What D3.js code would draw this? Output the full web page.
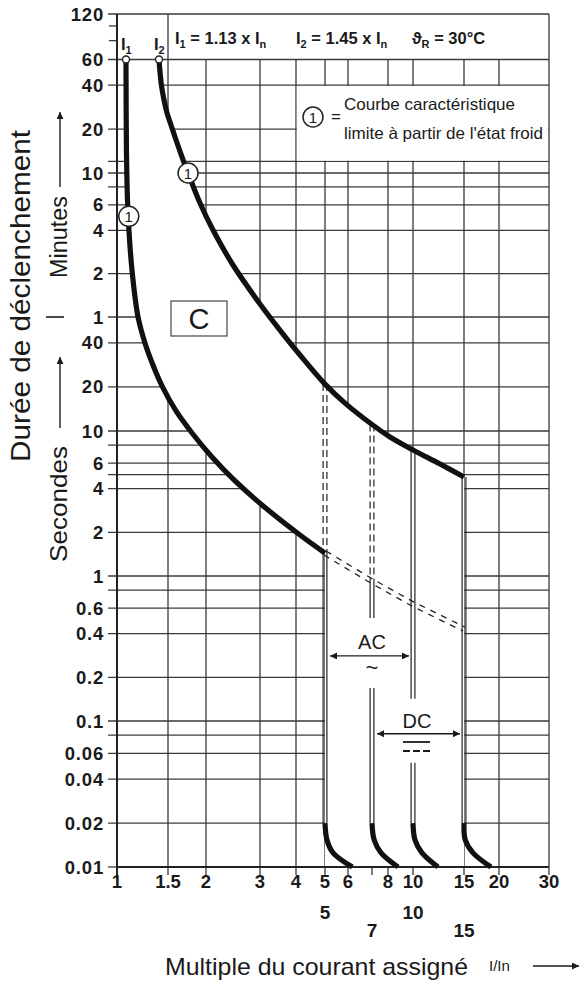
<!DOCTYPE html>
<html><head><meta charset="utf-8">
<script src="https://cdn.jsdelivr.net/npm/d3@7"></script>
<style>
body{margin:0;background:#fff}
svg text{font-family:"Liberation Sans",Arial,Helvetica,sans-serif;fill:#1a1a1a}
</style></head>
<body><svg id="c" width="588" height="1000"></svg>
<script>
// ---------------- data ----------------
const xTickValues = [1,1.5,2,3,4,5,6,7,8,10,15,20,30];
const xTickLabels = ["1","1.5","2","3","4","5","6","","8","10","15","20","30"];
const xGridValues = [1.5,2,3,4,5,6,8,10,15,20];
const xBoldValues = [5,7,10,15];
const xBoldLabels = ["5","7","10","15"];

// time values in seconds
const yLabelValues = [7200,3600,2400,1200,600,360,240,120,60,40,20,10,6,4,2,1,0.6,0.4,0.2,0.1,0.06,0.04,0.02,0.01];
const yLabelTexts  = ["120","60","40","20","10","6","4","2","1","40","20","10","6","4","2","1","0.6","0.4","0.2","0.1","0.06","0.04","0.02","0.01"];
const yMinorTicks  = [6000,4800];
const yGridValues  = [2400,1200,720,600,480,360,240,120,60,40,20,10,8,6,5,4,2,1,0.8,0.6,0.4,0.2,0.1,0.08,0.06,0.04,0.02];

// tripping curves (multiple of In, seconds)
const lowerX = [1.074,1.078,1.087,1.105,1.131,1.182,1.249,1.331,1.430,1.594,1.799,2.092,2.449,3.048,4.125,5];
const lowerT = [3600,863,390,205.5,117.4,60,39.9,28.2,20.3,13.7,9.69,6.62,4.67,3.09,1.917,1.44];
const upperX = [1.3965,1.4077,1.4246,1.4533,1.4883,1.5345,1.594,1.6684,1.7458,1.911,2.1081,2.449,3,3.606,4.125,5,5.859,6.912,8.144,10,12.396,15];
const upperT = [3600,2955,2370,1900,1547,1280,1010,772,600,371.5,241,137.8,73.9,45.9,33.0,20.9,15.5,11.34,9.09,7.40,5.92,4.82];
const extX = [5,7,10,15];
const extT = [1.44,0.92,0.64,0.43];

// instantaneous tails
const tail5X  = [5,5.08,5.33,6.17];
const tail7X  = [7,7.13,7.55,8.75];
const tail10X = [10,10.16,10.74,12.2];
const tail15X = [15,15.16,16.15,18.72];
const tailT   = [0.02,0.0153,0.0125,0.01];

// vertical magnetic-trip lines: [x, tTop, tBottom]
const solidSegs  = [[5,1.44,0.02],[7,0.92,0.513],[7,0.169,0.02],[10,7.4,0.1426],[10,0.0518,0.02],[15,4.82,0.02]];
const dashedSegs = [[5,20.9,1.44],[7,11.07,0.92]];

const i1 = [1.074,3600], i2 = [1.3965,3600];
const mark1Lower = [1.098,300], mark1Upper = [1.7458,600];
const acArrow = [5,10,0.281];
const dcArrow = [7,15,0.0818];
const gridTop = 3600, tMax = 7200, tMin = 0.01, xMin = 1, xMax = 30;

// ---------------- scales ----------------
const svg = d3.select("#c");
const W = 588, H = 1000;
const x = d3.scaleLog()
  .domain([1,1.5,2,3,4,5,6,7,8,10,15,20,30])
  .range([117,168,206,260,296,325,348,372,388,413,464,499,549]);
const y = d3.scaleLog()
  .domain([0.01,0.1,1,10,60,600,3600,7200])
  .range([867,721,576,431,317,173,59.5,14]);

const zip = (a,b)=>a.map((v,i)=>[v,b[i]]);
const line = d3.line().x(d=>x(d[0])).y(d=>y(d[1])).curve(d3.curveCatmullRom.alpha(0.5));
const lowerPts = zip(lowerX,lowerT), upperPts = zip(upperX,upperT);

// band mask (region without grid)
const bandD = line(lowerPts)
  + "L" + x(5) + "," + y(tMin) + "L" + x(15) + "," + y(tMin)
  + "L" + line(upperPts.slice().reverse()).slice(1) + "Z";
const defs = svg.append("defs");
const mask = defs.append("mask").attr("id","band").attr("maskUnits","userSpaceOnUse")
  .attr("x",0).attr("y",0).attr("width",W).attr("height",H);
mask.append("rect").attr("width",W).attr("height",H).attr("fill","white");
mask.append("path").attr("d",bandD).attr("fill","black");

defs.append("marker").attr("id","ah").attr("viewBox","0 0 10 10").attr("refX",10).attr("refY",5)
  .attr("markerWidth",10).attr("markerHeight",7).attr("markerUnits","userSpaceOnUse").attr("orient","auto-start-reverse")
  .append("path").attr("d","M0,0L10,5L0,10Z").attr("fill","#1a1a1a");

const gridC = "#3a3a3a";
// ---------------- grid ----------------
const g = svg.append("g").attr("mask","url(#band)");
g.selectAll("line.h").data(yGridValues).join("line")
  .attr("x1",108).attr("x2",x(xMax)).attr("y1",d=>y(d)).attr("y2",d=>y(d))
  .attr("stroke",gridC).attr("stroke-width",1.3);
g.selectAll("line.v").data(xGridValues).join("line")
  .attr("x1",d=>x(d)).attr("x2",d=>x(d)).attr("y1",d=>d===1.5?y(tMax):y(gridTop)).attr("y2",y(tMin))
  .attr("stroke",gridC).attr("stroke-width",1.3);
// legend area cleared
svg.append("rect").attr("x",x(4)+0.8).attr("y",y(2400)+0.8)
  .attr("width",x(xMax)-x(4)-1.6).attr("height",y(720)-y(2400)-1.6).attr("fill","#fff");

// frame
const frame = svg.append("g").attr("stroke",gridC).attr("stroke-width",1.3);
frame.append("line").attr("x1",108).attr("x2",x(xMax)).attr("y1",y(tMax)).attr("y2",y(tMax));
frame.append("line").attr("x1",108).attr("x2",x(xMax)).attr("y1",y(gridTop)).attr("y2",y(gridTop));
frame.append("line").attr("x1",x(xMax)).attr("x2",x(xMax)).attr("y1",y(tMax)).attr("y2",y(tMin));
frame.selectAll("line.mt").data(yMinorTicks).join("line")
  .attr("x1",109).attr("x2",x(xMin)).attr("y1",d=>y(d)).attr("y2",d=>y(d));
frame.append("line").attr("x1",108).attr("x2",x(xMin)).attr("y1",y(tMin)).attr("y2",y(tMin));
frame.selectAll("line.xt").data(xTickValues).join("line")
  .attr("x1",d=>x(d)).attr("x2",d=>x(d)).attr("y1",y(tMin)).attr("y2",y(tMin)+8);
svg.append("line").attr("x1",x(xMin)).attr("x2",x(xMin)).attr("y1",y(tMax)).attr("y2",y(tMin)+8)
  .attr("stroke","#222").attr("stroke-width",2);
svg.append("line").attr("x1",x(xMin)).attr("x2",x(xMax)).attr("y1",y(tMin)).attr("y2",y(tMin))
  .attr("stroke","#222").attr("stroke-width",2);

// ---------------- vertical trip lines ----------------
const vl = svg.append("g").attr("stroke","#222").attr("stroke-width",1.2);
[-1.9,1.9].forEach(off=>{
  vl.selectAll(null).data(solidSegs).join("line")
    .attr("x1",d=>x(d[0])+off).attr("x2",d=>x(d[0])+off).attr("y1",d=>y(d[1])).attr("y2",d=>y(d[2]));
  vl.selectAll(null).data(dashedSegs).join("line")
    .attr("x1",d=>x(d[0])+off).attr("x2",d=>x(d[0])+off).attr("y1",d=>y(d[1])).attr("y2",d=>y(d[2]))
    .attr("stroke-dasharray","7,4");
});
// dashed extension of lower curve
const extLine = d3.line().x(d=>x(d[0])).y(d=>y(d[1]));
[-2.2,2.2].forEach(off=>{
  svg.append("path").attr("d",extLine(zip(extX,extT))).attr("transform",`translate(${off*0.45},${-off*0.9})`)
    .attr("fill","none").attr("stroke","#222").attr("stroke-width",1.3).attr("stroke-dasharray","6,6");
});

// ---------------- thick curves ----------------
const thick = svg.append("g").attr("fill","none").attr("stroke","#111").attr("stroke-width",5.2).attr("stroke-linecap","butt");
thick.append("path").attr("d",line(lowerPts));
thick.append("path").attr("d",line(upperPts));
[tail5X,tail7X,tail10X,tail15X].forEach(tx=>thick.append("path").attr("d",line(zip(tx,tailT))));

// I1 / I2 dots
svg.selectAll("circle.i").data([i1,i2]).join("circle")
  .attr("cx",d=>x(d[0])).attr("cy",d=>y(d[1])).attr("r",3.5)
  .attr("fill","#fff").attr("stroke","#222").attr("stroke-width",1.4);

// circled-1 markers
function circ1(cx,cy){
  svg.append("circle").attr("cx",cx).attr("cy",cy).attr("r",10).attr("fill","#fff").attr("stroke","#222").attr("stroke-width",1.5);
  svg.append("text").attr("x",cx).attr("y",cy+5.5).attr("text-anchor","middle").attr("font-size",15).text("1");
}
circ1(x(mark1Lower[0]),y(mark1Lower[1]));
circ1(x(mark1Upper[0]),y(mark1Upper[1]));

// "C" box
svg.append("rect").attr("x",171).attr("y",301).attr("width",56).attr("height",35).attr("fill","#fff").attr("stroke","#444").attr("stroke-width",1.2);
svg.append("text").attr("x",199).attr("y",329).attr("text-anchor","middle").attr("font-size",29).text("C");

// ---------------- arrows AC / DC ----------------
const arrows = svg.append("g").attr("stroke","#1a1a1a").attr("stroke-width",1.3);
arrows.append("line").attr("x1",x(acArrow[0])+5).attr("x2",x(acArrow[1])-4).attr("y1",y(acArrow[2])).attr("y2",y(acArrow[2]))
  .attr("marker-start","url(#ah)").attr("marker-end","url(#ah)");
arrows.append("line").attr("x1",x(dcArrow[0])+5).attr("x2",x(dcArrow[1])-4).attr("y1",y(dcArrow[2])).attr("y2",y(dcArrow[2]))
  .attr("marker-start","url(#ah)").attr("marker-end","url(#ah)");
svg.append("text").attr("x",372).attr("y",649).attr("text-anchor","middle").attr("font-size",20).text("AC");
svg.append("text").attr("x",372).attr("y",675).attr("text-anchor","middle").attr("font-size",22).text("~");
svg.append("text").attr("x",417).attr("y",728).attr("text-anchor","middle").attr("font-size",20).text("DC");
svg.append("line").attr("x1",403).attr("x2",430).attr("y1",742).attr("y2",742).attr("stroke","#1a1a1a").attr("stroke-width",1.8);
svg.append("line").attr("x1",403).attr("x2",430).attr("y1",751).attr("y2",751).attr("stroke","#1a1a1a").attr("stroke-width",1.8).attr("stroke-dasharray","7,3");

// ---------------- axis labels ----------------
svg.selectAll("text.yl").data(yLabelValues).join("text")
  .attr("x",104).attr("y",d=>y(d)+6.5).attr("text-anchor","end")
  .attr("font-size",18.5).attr("letter-spacing",0.8).attr("font-weight","bold").text((d,i)=>yLabelTexts[i]);
svg.selectAll("text.xl").data(xTickValues).join("text")
  .attr("x",d=>x(d)).attr("y",888).attr("text-anchor","middle")
  .attr("font-size",18.5).attr("font-weight","bold").text((d,i)=>xTickLabels[i]);
svg.selectAll("text.xb").data(xBoldValues).join("text")
  .attr("x",d=>x(d)).attr("y",(d,i)=>i%2===0?919:937).attr("text-anchor","middle")
  .attr("font-size",19).attr("font-weight","bold").attr("fill","#000").text((d,i)=>xBoldLabels[i]);

// header
function subText(xp,yp,parts){
  const t = svg.append("text").attr("x",xp).attr("y",yp).attr("font-size",16.5).attr("font-weight","bold");
  parts.forEach(p=>{
    const s = t.append("tspan").text(p[0]);
    if(p[1]) s.attr("font-size",11).attr("dy",4); else s.attr("dy",p[2]||0);
  });
  return t;
}
subText(175,44,[["I"],["1",true],[" = 1.13 x I",false,-4],["n",true]]);
subText(296,44,[["I"],["2",true],[" = 1.45 x I",false,-4],["n",true]]);
subText(412,44,[["ϑ"],["R",true],[" = 30°C",false,-4]]);
subText(121,50,[["I"],["1",true]]);
subText(154,50,[["I"],["2",true]]);

// legend
circ1(313,117);
svg.append("text").attr("x",331).attr("y",122).attr("font-size",17).text("=");
svg.append("text").attr("x",344).attr("y",110).attr("font-size",16.5).attr("textLength",171).attr("lengthAdjust","spacingAndGlyphs").text("Courbe caractéristique");
svg.append("text").attr("x",344).attr("y",139).attr("font-size",16.5).attr("textLength",199).attr("lengthAdjust","spacingAndGlyphs").text("limite à partir de l'état froid");

// y title
svg.append("text").attr("transform","translate(30,296) rotate(-90)").attr("text-anchor","middle")
  .attr("font-size",28).attr("textLength",332).attr("lengthAdjust","spacingAndGlyphs").text("Durée de déclenchement");
svg.append("text").attr("transform","translate(67,237) rotate(-90)").attr("text-anchor","middle")
  .attr("font-size",23).attr("textLength",82).attr("lengthAdjust","spacingAndGlyphs").text("Minutes");
svg.append("text").attr("transform","translate(67,504) rotate(-90)").attr("text-anchor","middle")
  .attr("font-size",24).attr("textLength",116).attr("lengthAdjust","spacingAndGlyphs").text("Secondes");
svg.append("line").attr("x1",60).attr("x2",60).attr("y1",187).attr("y2",112).attr("stroke","#1a1a1a").attr("stroke-width",1.4).attr("marker-end","url(#ah)");
svg.append("line").attr("x1",60).attr("x2",60).attr("y1",428).attr("y2",357).attr("stroke","#1a1a1a").attr("stroke-width",1.4).attr("marker-end","url(#ah)");
svg.append("line").attr("x1",46).attr("x2",64).attr("y1",y(60)).attr("y2",y(60)).attr("stroke","#1a1a1a").attr("stroke-width",1.6);

// x title
svg.append("text").attr("x",165).attr("y",975).attr("font-size",24).attr("textLength",303).attr("lengthAdjust","spacingAndGlyphs").text("Multiple du courant assigné");
svg.append("text").attr("x",489).attr("y",971).attr("font-size",15).text("I/In");
svg.append("line").attr("x1",533).attr("x2",579).attr("y1",966).attr("y2",966).attr("stroke","#1a1a1a").attr("stroke-width",1.4).attr("marker-end","url(#ah)");
</script></body></html>
